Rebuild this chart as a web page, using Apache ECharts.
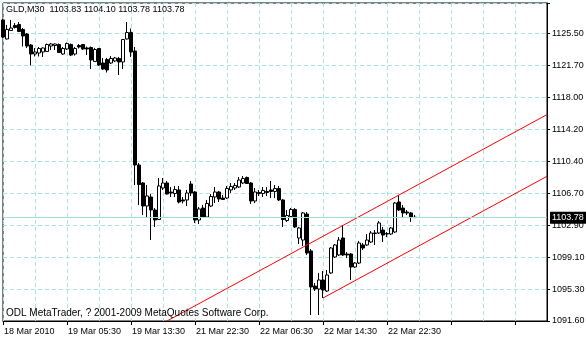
<!DOCTYPE html>
<html><head><meta charset="utf-8">
<script src="https://cdn.jsdelivr.net/npm/echarts@6/dist/echarts.min.js"></script>
<style>html,body{margin:0;padding:0;background:#fff}#c{width:586px;height:340px}</style>
</head><body><div id="c"></div>
<script>
const symbolName = 'GLD,M30';
const lastBar = ['1103.83', '1104.10', '1103.78', '1103.78'];
const copyright = 'ODL MetaTrader, ? 2001-2009 MetaQuotes Software Corp.';

const opens = [1127.07,1124.83,1125.83,1126.42,1126.54,1125.95,1125.42,1124.12,1123.06,1123.18,
1123.30,1123.36,1124.00,1124.06,1124.18,1123.06,1123.65,1124.18,1123.06,1124.06,
1124.18,1123.77,1123.83,1122.18,1123.71,1122.00,1122.41,1122.00,1122.24,1122.53,
1122.12,1124.83,1125.59,1123.41,1109.98,1107.86,1105.15,1106.21,1104.68,1103.56,
1107.27,1107.86,1106.80,1106.62,1107.04,1105.86,1105.86,1107.74,1106.80,1103.50,
1104.91,1103.85,1105.15,1106.21,1106.80,1106.09,1106.09,1107.04,1107.27,1107.39,
1107.86,1108.51,1107.86,1105.74,1106.74,1106.62,1106.86,1107.04,1106.86,1107.21,
1105.86,1103.44,1103.91,1104.74,1101.38,1101.14,1104.21,1099.85,1095.72,1095.37,
1096.43,1095.13,1097.26,1099.14,1099.38,1101.38,1099.49,1099.49,1097.96,1098.43,
1100.56,1100.56,1100.91,1101.97,1101.97,1102.32,1101.91,1101.85,1102.09,1105.62,
1104.91,1104.44,1104.33,1103.83];
const highs = [1127.18,1126.48,1127.07,1126.71,1126.83,1126.12,1125.54,1124.24,1123.77,1123.89,
1123.83,1124.30,1124.36,1124.30,1124.30,1123.89,1124.41,1124.30,1123.89,1124.24,
1124.24,1123.94,1123.94,1123.77,1123.77,1122.59,1122.59,1122.82,1122.71,1122.71,
1124.83,1126.83,1126.07,1123.89,1110.22,1107.98,1107.62,1106.56,1104.91,1108.45,
1108.45,1108.10,1107.39,1107.51,1107.51,1106.21,1107.04,1108.10,1106.92,1105.03,
1105.27,1105.86,1106.56,1107.39,1106.92,1106.45,1107.51,1107.86,1107.86,1108.57,
1108.69,1108.63,1107.98,1107.27,1107.04,1107.39,1107.39,1108.10,1107.62,1107.51,
1105.98,1104.68,1104.91,1104.91,1102.68,1104.44,1104.44,1100.08,1096.08,1097.26,
1097.49,1097.61,1100.32,1100.67,1101.49,1102.91,1099.73,1099.61,1098.55,1101.03,
1100.79,1101.85,1102.20,1102.32,1103.38,1102.68,1102.09,1102.68,1105.62,1106.45,
1105.27,1104.68,1104.44,1104.10];
const lows = [1124.95,1124.77,1125.77,1126.07,1125.65,1123.94,1123.77,1121.71,1122.77,1122.77,
1122.71,1123.30,1123.53,1123.53,1123.18,1122.94,1123.53,1122.82,1122.88,1123.71,
1123.53,1122.94,1121.29,1122.12,1121.65,1121.18,1120.88,1121.88,1122.12,1120.59,
1121.29,1124.77,1122.71,1107.62,1105.27,1104.09,1103.85,1101.14,1102.68,1103.50,
1107.04,1106.50,1106.21,1106.21,1105.45,1105.45,1105.15,1106.33,1103.15,1103.03,
1103.74,1103.74,1105.03,1105.50,1105.62,1105.86,1105.98,1106.68,1107.04,1107.27,
1107.74,1107.74,1105.39,1105.50,1106.33,1106.21,1106.33,1106.09,1106.09,1105.74,
1102.68,1103.27,1103.85,1102.56,1100.67,1100.44,1099.38,1092.31,1095.13,1092.31,
1094.31,1095.02,1097.14,1099.02,1099.26,1099.26,1099.02,1096.43,1097.84,1098.31,
1099.97,1100.44,1100.79,1100.56,1101.85,1100.91,1101.49,1101.73,1101.97,1104.56,
1103.85,1104.09,1103.27,1103.78];
const closes = [1125.06,1125.95,1126.12,1126.18,1125.71,1125.18,1124.00,1123.06,1123.30,1123.71,
1123.77,1124.18,1124.24,1124.24,1123.24,1123.71,1124.30,1122.94,1123.71,1123.89,
1123.65,1123.65,1122.35,1123.59,1121.76,1121.29,1121.18,1122.53,1122.59,1122.12,
1124.77,1125.59,1123.30,1109.98,1107.68,1105.15,1106.33,1104.68,1103.50,1107.51,
1107.86,1106.56,1106.68,1107.09,1105.62,1105.74,1106.68,1106.68,1103.50,1104.80,
1103.85,1105.45,1106.27,1106.80,1105.98,1105.92,1107.21,1107.45,1107.57,1108.21,
1108.39,1107.80,1105.74,1106.80,1106.62,1106.98,1106.74,1106.86,1107.21,1105.86,
1103.56,1104.03,1104.74,1102.68,1102.56,1104.33,1099.61,1095.61,1095.37,1096.43,
1095.25,1097.02,1100.20,1100.56,1101.14,1099.38,1099.38,1097.96,1098.43,1100.79,
1100.20,1101.14,1101.97,1101.91,1103.15,1101.73,1101.85,1102.56,1105.50,1104.68,
1104.33,1104.33,1103.85,1103.78];

const barSlots = 137;
const xTickLabels = ['18 Mar 2010', '19 Mar 05:30', '19 Mar 13:30', '21 Mar 22:30', '22 Mar 06:30', '22 Mar 14:30', '22 Mar 22:30'];
const yTickLabels = ['1091.60', '1095.30', '1099.10', '1102.90', '1106.70', '1110.40', '1114.20', '1118.00', '1121.70', '1125.50'];
const yMin = 1091.6, yMax = 1129.07, yStep = 3.76667;
const bidPrice = 1103.78;
const channelUpper = [[41, 1091.6], [136, 1115.92]];
const channelLower = [[80, 1094.31], [136, 1108.65]];

const FONT = '"Liberation Sans", Arial, sans-serif';
const GRID = '#a9e3e3';

const xIndex = [];
for (let i = 0; i < barSlots; i++) xIndex.push(String(i));
const candles = opens.map((o, i) => [o, closes[i], lows[i], highs[i]]);

const chart = echarts.init(document.getElementById('c'), null, {renderer: 'canvas'});
chart.setOption({
  animation: false,
  backgroundColor: '#fff',
  title: [
    {text: symbolName + '  ' + lastBar.join(' '), left: 6, top: 5, padding: 0,
     textStyle: {fontFamily: FONT, fontSize: 9, fontWeight: 'normal', color: '#000'}},
    {text: copyright, left: 6, top: 308, padding: 0,
     textStyle: {fontFamily: FONT, fontSize: 10, fontWeight: 'normal', color: '#000'}}
  ],
  grid: {left: 3, right: 39, top: 3, bottom: 19, show: true, borderColor: '#000', borderWidth: 1,
         backgroundColor: '#fff', containLabel: false, outerBoundsMode: 'none'},
  xAxis: {
    type: 'category', data: xIndex, boundaryGap: false,
    axisLine: {show: true, lineStyle: {color: '#000'}},
    axisTick: {show: true, interval: 15, length: 4, lineStyle: {color: '#000'}},
    axisLabel: {interval: 15, align: 'left', margin: 6, padding: [0, 0, 0, 1], color: '#000',
      fontFamily: FONT, fontSize: 9, hideOverlap: false,
      formatter: (v, idx) => (idx % 16 === 0 && xTickLabels[idx / 16]) ? xTickLabels[idx / 16] : ''},
    splitLine: {show: true, interval: 7, lineStyle: {color: GRID, type: [4, 3], width: 1}}
  },
  yAxis: {
    type: 'value', position: 'right', min: yMin, max: yMax, interval: yStep,
    axisLine: {show: true, lineStyle: {color: '#000'}},
    axisTick: {show: true, length: 3, lineStyle: {color: '#000'}},
    axisLabel: {margin: 5, color: '#000', fontFamily: FONT, fontSize: 9, hideOverlap: false,
      formatter: v => {
        const k = Math.round((v - yMin) / yStep);
        if (Math.abs(v - (yMin + k * yStep)) < 0.01 && k < yTickLabels.length) return yTickLabels[k];
        return '';
      }},
    splitLine: {show: true, lineStyle: {color: GRID, type: [4, 3], width: 1}}
  },
  series: [
    {type: 'candlestick', data: candles, barWidth: 3,
     itemStyle: {color: '#fff', color0: '#000', borderColor: '#000', borderColor0: '#000', borderWidth: 1},
     markLine: {silent: true, symbol: ['none', 'none'], animation: false,
       data: [{yAxis: bidPrice}],
       lineStyle: {color: '#a0dede', type: 'solid', width: 1},
       label: {show: true, position: 'end', distance: 3, formatter: bidPrice.toFixed(2), color: '#fff',
         backgroundColor: '#000', padding: [2, 3, 1, 2], fontFamily: FONT, fontSize: 9}}},
    {type: 'line', data: channelUpper, symbol: 'none', silent: true, clip: true,
     lineStyle: {color: '#ff0000', width: 1}},
    {type: 'line', data: channelLower, symbol: 'none', silent: true, clip: true,
     lineStyle: {color: '#ff0000', width: 1}}
  ]
});
</script></body></html>
